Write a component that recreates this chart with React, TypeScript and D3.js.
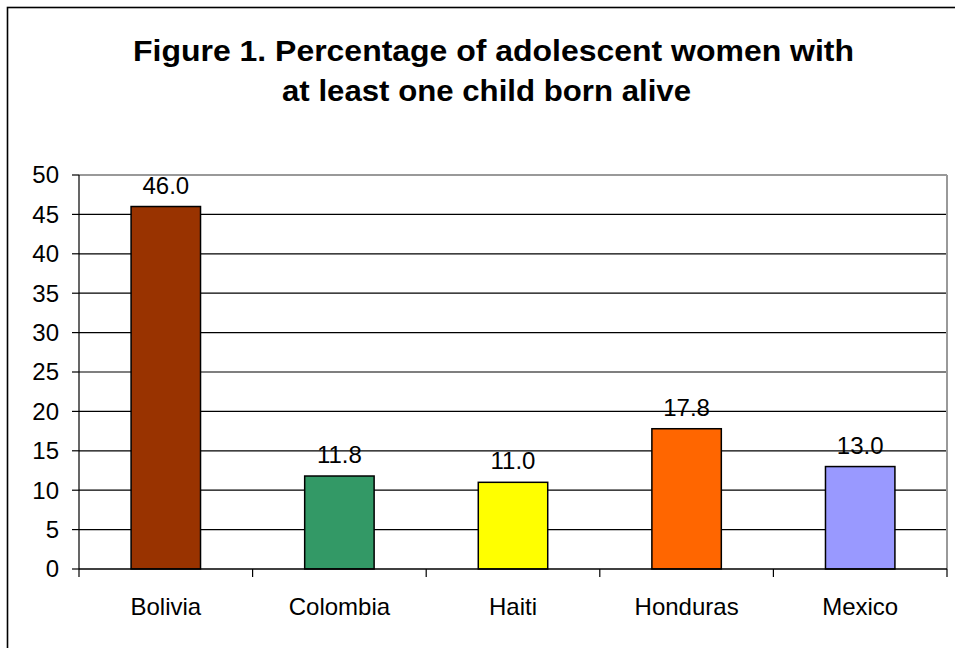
import React from "react";
import * as d3 from "d3";

const categories = ["Bolivia", "Colombia", "Haiti", "Honduras", "Mexico"];
const values = [46.0, 11.8, 11.0, 17.8, 13.0];
const barColors = ["#993300", "#339966", "#FFFF00", "#FF6600", "#9999FF"];
const yTicks = [0, 5, 10, 15, 20, 25, 30, 35, 40, 45, 50];
const titleLines = [
  "Figure 1. Percentage of adolescent women with",
  "at least one child born alive",
];

const W = 955;
const H = 648;
const FONT = "'Liberation Sans', Arial, sans-serif";
const plot = { left: 79, right: 947, top: 175, bottom: 569 };
const titleLayout = [
  { x: 133, len: 721, y: 61 },
  { x: 282, len: 409, y: 100.5 },
];

export default function App() {
  const x = d3
    .scaleBand<string>()
    .domain(categories)
    .range([plot.left, plot.right])
    .paddingInner(0.6)
    .paddingOuter(0.3);
  const band = d3.scaleBand<string>().domain(categories).range([plot.left, plot.right]);
  const y = d3.scaleLinear().domain([0, 50]).range([plot.bottom, plot.top]);

  return (
    <svg
      width={W}
      height={H}
      style={{ position: "absolute", left: 0, top: 0, display: "block", background: "#fff" }}
      fontFamily={FONT}
    >
      <rect x={0} y={0} width={W} height={H} fill="#fff" />
      <rect x={7.5} y={7.5} width={1000} height={1000} fill="none" stroke="#000" strokeWidth={1.6} />

      {titleLines.map((t, i) => (
        <text
          key={i}
          x={titleLayout[i].x}
          y={titleLayout[i].y}
          textLength={titleLayout[i].len}
          lengthAdjust="spacingAndGlyphs"
          fontSize={30}
          fontWeight="bold"
          fill="#000"
        >
          {t}
        </text>
      ))}

      {/* gridlines */}
      {yTicks
        .filter((t) => t > 0 && t < 50)
        .map((t) => (
          <line key={t} x1={plot.left} x2={plot.right} y1={y(t)} y2={y(t)} stroke="#000" strokeWidth={1.2} />
        ))}

      {/* plot border top/right */}
      <line x1={plot.left} x2={plot.right} y1={plot.top} y2={plot.top} stroke="#999" strokeWidth={2} />
      <line x1={plot.right} x2={plot.right} y1={plot.top} y2={plot.bottom} stroke="#999" strokeWidth={2} />

      {/* bars */}
      {categories.map((c, i) => (
        <g key={c}>
          <rect
            x={x(c)!}
            y={y(values[i])}
            width={x.bandwidth()}
            height={y(0) - y(values[i])}
            fill={barColors[i]}
            stroke="#000"
            strokeWidth={1.5}
          />
          <text
            x={x(c)! + x.bandwidth() / 2}
            y={y(values[i]) - 13}
            textAnchor="middle"
            fontSize={24}
            fill="#000"
          >
            {values[i].toFixed(1)}
          </text>
          <text
            x={band(c)! + band.bandwidth() / 2}
            y={615}
            textAnchor="middle"
            fontSize={24}
            fill="#000"
          >
            {c}
          </text>
        </g>
      ))}

      {/* axes */}
      <line x1={plot.left} x2={plot.left} y1={plot.top} y2={plot.bottom} stroke="#000" strokeWidth={1.2} />
      <line x1={plot.left} x2={plot.right} y1={plot.bottom} y2={plot.bottom} stroke="#000" strokeWidth={1.5} />
      {yTicks.map((t) => (
        <g key={t}>
          <line x1={plot.left - 7} x2={plot.left} y1={y(t)} y2={y(t)} stroke="#000" strokeWidth={1.2} />
          <text x={59} y={y(t)} dy="0.35em" textAnchor="end" fontSize={24} fill="#000">
            {t}
          </text>
        </g>
      ))}
      {[...categories.map((c) => band(c)!), plot.right].map((px, i) => (
        <line key={i} x1={px} x2={px} y1={plot.bottom} y2={plot.bottom + 8} stroke="#000" strokeWidth={1.2} />
      ))}
    </svg>
  );
}
